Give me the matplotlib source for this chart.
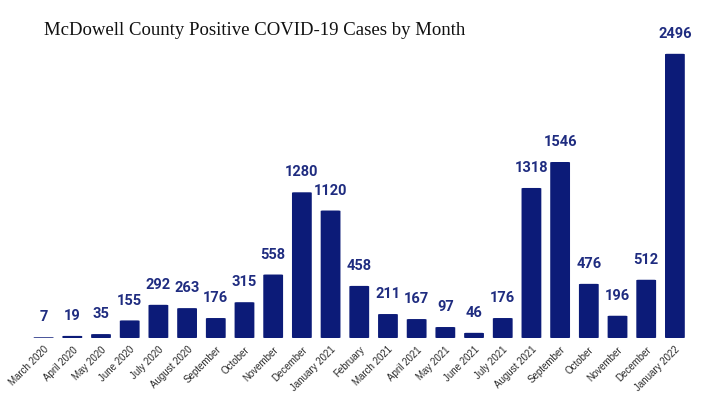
import matplotlib.pyplot as plt
from matplotlib.patches import FancyBboxPatch

months = ["March 2020", "April 2020", "May 2020", "June 2020", "July 2020",
          "August 2020", "September", "October", "November", "December",
          "January 2021", "February", "March 2021", "April 2021", "May 2021",
          "June 2021", "July 2021", "August 2021", "September", "October",
          "November", "December", "January 2022"]
cases = [7, 19, 35, 155, 292, 263, 176, 315, 558, 1280, 1120, 458,
         211, 167, 97, 46, 176, 1318, 1546, 476, 196, 512, 2496]

bar_color = "#0c1b78"
label_color = "#1f2c80"

fig = plt.figure(figsize=(7.07, 4.14), dpi=100)
ax = fig.add_axes([0.0414, 0.181, 0.9335, 0.795])

x = list(range(len(cases)))
bars = ax.bar(x, cases, width=0.69, color=bar_color)

# swap plain bars for ones with slightly rounded corners
for b in bars:
    b.set_visible(False)
    h = b.get_height()
    if h <= 0:
        continue
    patch = FancyBboxPatch((b.get_x(), 0), b.get_width(), h,
                           boxstyle="round,pad=0,rounding_size=0.08",
                           mutation_aspect=h / 0.69 if h < 40 else 60,
                           facecolor=bar_color, edgecolor="none")
    ax.add_patch(patch)

for xi, v in zip(x, cases):
    ax.annotate(str(v), (xi, v), xytext=(0, 15), textcoords="offset points",
                ha="center", va="center", fontsize=10.5, fontweight="bold",
                family=["Roboto", "DejaVu Sans"], color=label_color)

ax.set_xlim(-0.5, len(cases) - 0.5)
ax.set_ylim(0, 2890)
ax.set_xticks(x)
ax.set_xticklabels(months, rotation=45, ha="right", va="top",
                   rotation_mode="anchor", fontsize=7.0,
                   family="Liberation Sans", color="#2a2a2a")
ax.tick_params(axis="x", length=0, pad=4)
ax.set_yticks([])
for s in ax.spines.values():
    s.set_visible(False)

fig.text(0.36, 0.927, "McDowell County Positive COVID-19 Cases by Month",
         ha="center", va="center", fontsize=13.5, family="Liberation Serif",
         color="#111111")

fig.savefig("out.png", dpi=100)
